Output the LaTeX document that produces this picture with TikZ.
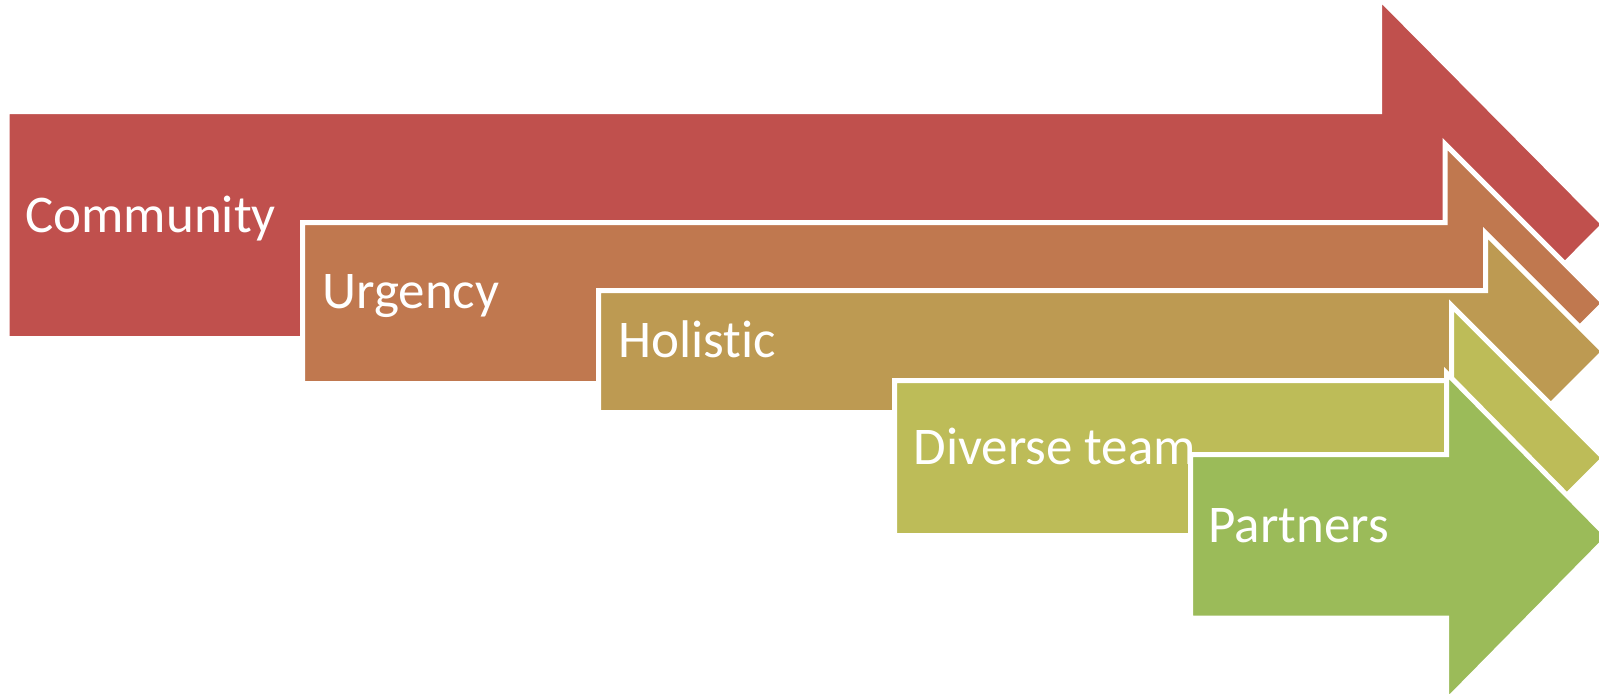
\documentclass[tikz,border=0pt]{standalone}
\usepackage{fontspec}
\setmainfont{Carlito}[Ligatures=NoCommon]
\definecolor{cA}{HTML}{C0504D}
\definecolor{cB}{HTML}{C0784F}
\definecolor{cC}{HTML}{BD9A52}
\definecolor{cD}{HTML}{BDBC58}
\definecolor{cE}{HTML}{9BBB59}
\tikzset{
  arrowshape/.style={draw=white, line width=2.5pt, line join=miter},
  label/.style={anchor=base west, inner sep=0pt, text=white, font=\fontsize{26.5}{32}\selectfont}
}
\begin{document}
\begin{tikzpicture}[x=0.5pt,y=-0.5pt]
\useasboundingbox (0,0) rectangle (1599,693);
\fill[white] (0,0) rectangle (1599,693);
\clip (0,0) rectangle (1599,693);
% Community
\path[arrowshape, fill=cA] (7,111.5) -- (1379.5,111.5) -- (1379.5,-2) -- (1604,224.5) -- (1379.5,451) -- (1379.5,338.5) -- (7,338.5) -- cycle;
\node[label] (community) at (25,232) {Community};
% Urgency
\path[arrowshape, fill=cB] (302.5,222.5) -- (1445,222.5) -- (1445,144) -- (1604,303) -- (1445,462) -- (1445,383.5) -- (302.5,383.5) -- cycle;
\node[label] (urgency) at (322,308) {Urgency};
% Holistic
\path[arrowshape, fill=cC] (598.5,290.5) -- (1485.5,290.5) -- (1485.5,233) -- (1604,351.5) -- (1485.5,470) -- (1485.5,412.5) -- (598.5,412.5) -- cycle;
\node[label] (holistic) at (618,357) {Holistic};
% Diverse team
\path[arrowshape, fill=cD] (894.5,380.5) -- (1451.5,380.5) -- (1451.5,305.5) -- (1604,458) -- (1451.5,610.5) -- (1451.5,535.5) -- (894.5,535.5) -- cycle;
\node[label] (diverse) at (913,464) {Diverse team};
% Partners
\path[arrowshape, fill=cE] (1190.5,454.5) -- (1446.5,454.5) -- (1446.5,373) -- (1608,537) -- (1446.5,701) -- (1446.5,618) -- (1190.5,618) -- cycle;
\node[label] (partners) at (1208,542) {Partners};
\end{tikzpicture}
\end{document}
